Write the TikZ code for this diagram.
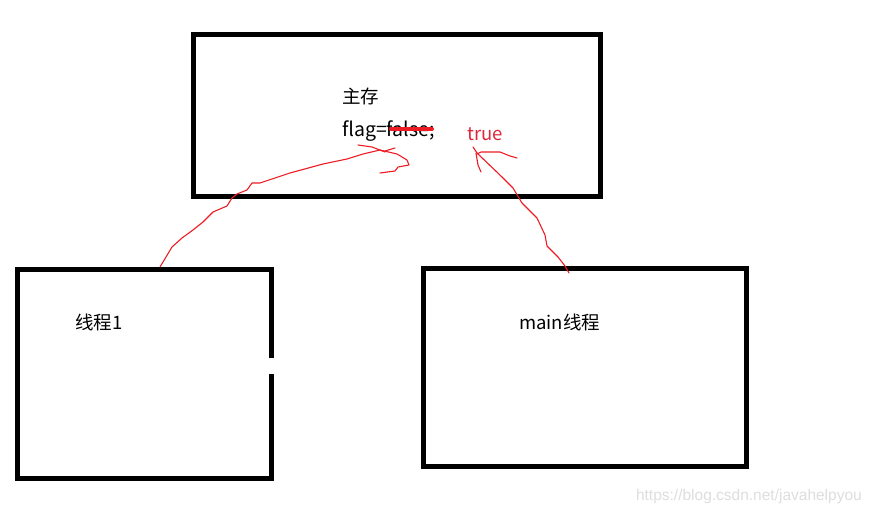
\documentclass[tikz,border=0pt]{standalone}
\usepackage{fontspec}
\setmainfont{Liberation Sans}
\newfontfamily\cjk{Noto Sans CJK SC}
\definecolor{pen}{RGB}{237,28,36}
\definecolor{truecol}{RGB}{222,40,60}
\definecolor{wm}{RGB}{222,222,222}
\begin{document}
\begin{tikzpicture}[x=1pt,y=-1pt,
  box/.style={line width=5pt,draw=black,miter limit=10},
  lbl/.style={anchor=base west,inner sep=0pt,font=\cjk\fontsize{18.5}{22}\selectfont},
  scribble/.style={draw=pen,line width=1.1pt,line join=round,line cap=round}]
\useasboundingbox[fill=white] (0,0) rectangle (870,513);
% boxes
\draw[box] (193,35) rectangle (600,197);
\draw[box] (271,358) -- (271,269) -- (17,269) -- (17,478) -- (271,478) -- (271,374);
\draw[box] (423,268) rectangle (746,466);
% texts
\node[lbl] (zc) at (342,104) {主存};
\node[lbl,font=\cjk\fontsize{19.5}{22}\selectfont] (flag) at (342,137) {flag=false;};
\node[lbl,text=truecol] (tr) at (467,141) {true};
\node[lbl] (t1) at (75,329) {线程1};
\node[lbl] (mt) at (519,329) {main线程};
\node[anchor=base east,inner sep=0pt,text=wm,font=\fontsize{15.5}{18}\selectfont] (wmk) at (862,500) {https://blog.csdn.net/javahelpyou};
% strike through
\draw[pen,line width=4pt,line cap=round] (391,129) -- (432,129);
% left scribble
\draw[scribble] (160,267) -- (166,257) -- (172,247) -- (182,238) -- (193,230) -- (203,222) -- (213,212) -- (227,206) -- (232,198) -- (237,194) -- (247,190) -- (252,183) -- (260,183) -- (290,173) -- (323,164) -- (347,159) -- (363,154) -- (380,150) -- (397,154) -- (407,160) -- (409,165) -- (398,167) -- (395,171) -- (380,173);
\draw[scribble] (358,145) -- (372,147) -- (385,152);
\draw[scribble] (385,151) -- (395,148);
% right scribble
\draw[scribble] (569,273) -- (565,266) -- (558,257) -- (547,246) -- (545,235) -- (537,218) -- (522,203) -- (513,188) -- (502,177) -- (477,153) -- (473,147);
\draw[scribble] (477,154) -- (481,152) -- (500,152) -- (510,156) -- (517,158);
\draw[scribble] (476,153) -- (478,165) -- (481,172);
\end{tikzpicture}
\end{document}
